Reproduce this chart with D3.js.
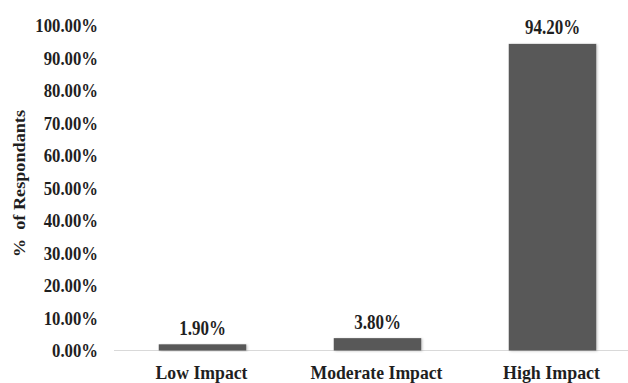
<!DOCTYPE html>
<html>
<head>
<meta charset="utf-8">
<script src="https://cdn.jsdelivr.net/npm/d3@7"></script>
<style>
  html, body { margin: 0; padding: 0; background: #ffffff; }
  svg { display: block; }
  svg text { font-family: "Liberation Serif", "Times New Roman", serif; font-weight: bold; fill: #1f1f1f; }
</style>
</head>
<body>
<svg id="chart" width="628" height="383"></svg>
<script>
// Share of respondants by perceived impact level
const categories = ["Low Impact", "Moderate Impact", "High Impact"];
const values = [1.9, 3.8, 94.2];
const valueLabels = ["1.90%", "3.80%", "94.20%"];
const yTicks = [0, 10, 20, 30, 40, 50, 60, 70, 80, 90, 100];
const yTickLabels = ["0.00%", "10.00%", "20.00%", "30.00%", "40.00%", "50.00%", "60.00%", "70.00%", "80.00%", "90.00%", "100.00%"];
const yTitle = "%  of Respondants";

const svg = d3.select("#chart");

const x = d3.scaleBand().domain(categories).range([115, 640]).paddingInner(0.5).paddingOuter(0.25);
const y = d3.scaleLinear().domain([0, 100]).range([350.5, 25]);

// narrow the glyphs horizontally by a factor (condensed face look)
function condense(sel, factor) {
  sel.each(function () {
    const w = this.getComputedTextLength();
    d3.select(this).attr("textLength", w * factor).attr("lengthAdjust", "spacingAndGlyphs");
  });
}

// soft shadow under the bars
const defs = svg.append("defs");
const f = defs.append("filter").attr("id", "shadow").attr("x", "-10%").attr("y", "-10%").attr("width", "130%").attr("height", "130%");
f.append("feDropShadow").attr("dx", 1.2).attr("dy", 0.6).attr("stdDeviation", 1.2)
  .attr("flood-color", "#000").attr("flood-opacity", 0.22);

// y axis: labels only, no line or ticks
const yAxis = d3.axisLeft(y).tickValues(yTicks)
  .tickFormat((d, i) => yTickLabels[i]).tickSize(0).tickPadding(0);
const gy = svg.append("g").attr("transform", "translate(98,0)").call(yAxis)
  .attr("font-family", null).attr("font-size", null);
gy.select(".domain").remove();
gy.selectAll("text").attr("font-size", 19).attr("dy", "0.34em").call(condense, 0.88);

// x axis baseline
const xAxis = d3.axisBottom(x).tickSize(0).tickPadding(0);
const gx = svg.append("g").attr("transform", `translate(0,${y(0)})`).call(xAxis);
gx.select(".domain").attr("stroke", "#d9d9d9").attr("stroke-width", 1.2)
  .attr("d", `M114,0H628`);
gx.selectAll(".tick").remove();

// bars
svg.append("g").selectAll("rect").data(values).join("rect")
  .attr("x", (d, i) => x(categories[i]))
  .attr("width", x.bandwidth())
  .attr("y", d => y(d))
  .attr("height", d => y(0) - y(d))
  .attr("fill", "#595959")
  .attr("filter", "url(#shadow)");

// value labels above bars
svg.append("g").selectAll("text").data(values).join("text")
  .attr("x", (d, i) => x(categories[i]) + x.bandwidth() / 2)
  .attr("y", d => y(d) - 9.5)
  .attr("text-anchor", "middle")
  .attr("font-size", 20)
  .text((d, i) => valueLabels[i])
  .call(condense, 0.85);

// category labels
const catWidths = [92, 132, 97];
svg.append("g").selectAll("text").data(categories).join("text")
  .attr("x", d => x(d) + x.bandwidth() / 2 - 1)
  .attr("y", 378.5)
  .attr("text-anchor", "middle")
  .attr("font-size", 19)
  .attr("textLength", (d, i) => catWidths[i])
  .attr("lengthAdjust", "spacingAndGlyphs")
  .text(d => d);

// y axis title (keeps the double space after the percent sign)
svg.append("text")
  .attr("transform", "translate(25,183.5) rotate(-90)")
  .attr("text-anchor", "middle")
  .attr("font-size", 17)
  .style("white-space", "pre")
  .attr("textLength", 147)
  .attr("lengthAdjust", "spacingAndGlyphs")
  .text(yTitle);
</script>
</body>
</html>
